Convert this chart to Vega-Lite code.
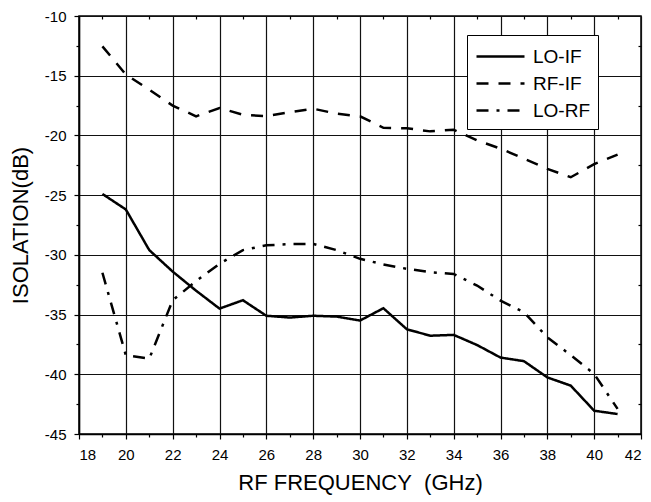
{
  "$schema": "https://vega.github.io/schema/vega-lite/v6.json",
  "width": 562,
  "height": 418,
  "autosize": {"type": "none"},
  "padding": {"left": 79, "top": 16, "right": 10, "bottom": 68},
  "background": "white",
  "config": {
    "font": "Liberation Sans",
    "view": {"stroke": "black", "strokeWidth": 1.5},
    "axis": {"labelFont": "Liberation Sans", "titleFont": "Liberation Sans", "labelColor": "black", "titleColor": "black", "titleFontWeight": "normal", "domainColor": "black", "domainWidth": 1.5, "tickColor": "black", "tickWidth": 1.2}
  },
  "data": {"values": [
    {"s": "LO-IF", "f": 19, "v": -24.9}, {"s": "LO-IF", "f": 20, "v": -26.2}, {"s": "LO-IF", "f": 21, "v": -29.6},
    {"s": "LO-IF", "f": 22, "v": -31.4}, {"s": "LO-IF", "f": 23, "v": -33.0}, {"s": "LO-IF", "f": 24, "v": -34.5},
    {"s": "LO-IF", "f": 25, "v": -33.8}, {"s": "LO-IF", "f": 26, "v": -35.1}, {"s": "LO-IF", "f": 27, "v": -35.25},
    {"s": "LO-IF", "f": 28, "v": -35.1}, {"s": "LO-IF", "f": 29, "v": -35.17}, {"s": "LO-IF", "f": 30, "v": -35.5},
    {"s": "LO-IF", "f": 31, "v": -34.47}, {"s": "LO-IF", "f": 32, "v": -36.23}, {"s": "LO-IF", "f": 33, "v": -36.77},
    {"s": "LO-IF", "f": 34, "v": -36.7}, {"s": "LO-IF", "f": 35, "v": -37.55}, {"s": "LO-IF", "f": 36, "v": -38.6},
    {"s": "LO-IF", "f": 37, "v": -38.9}, {"s": "LO-IF", "f": 38, "v": -40.26}, {"s": "LO-IF", "f": 39, "v": -40.95},
    {"s": "LO-IF", "f": 40, "v": -43.05}, {"s": "LO-IF", "f": 41, "v": -43.33},
    {"s": "RF-IF", "f": 19, "v": -12.54}, {"s": "RF-IF", "f": 20, "v": -14.9}, {"s": "RF-IF", "f": 21, "v": -16.17},
    {"s": "RF-IF", "f": 22, "v": -17.5}, {"s": "RF-IF", "f": 23, "v": -18.4}, {"s": "RF-IF", "f": 24, "v": -17.7},
    {"s": "RF-IF", "f": 25, "v": -18.27}, {"s": "RF-IF", "f": 26, "v": -18.38}, {"s": "RF-IF", "f": 27, "v": -18.05},
    {"s": "RF-IF", "f": 28, "v": -17.76}, {"s": "RF-IF", "f": 29, "v": -18.18}, {"s": "RF-IF", "f": 30, "v": -18.4},
    {"s": "RF-IF", "f": 31, "v": -19.36}, {"s": "RF-IF", "f": 32, "v": -19.4}, {"s": "RF-IF", "f": 33, "v": -19.66},
    {"s": "RF-IF", "f": 34, "v": -19.52}, {"s": "RF-IF", "f": 35, "v": -20.42}, {"s": "RF-IF", "f": 36, "v": -21.1},
    {"s": "RF-IF", "f": 37, "v": -21.95}, {"s": "RF-IF", "f": 38, "v": -22.8}, {"s": "RF-IF", "f": 39, "v": -23.5},
    {"s": "RF-IF", "f": 40, "v": -22.4}, {"s": "RF-IF", "f": 41, "v": -21.6},
    {"s": "LO-RF", "f": 19, "v": -31.5}, {"s": "LO-RF", "f": 20, "v": -38.4}, {"s": "LO-RF", "f": 21, "v": -38.7},
    {"s": "LO-RF", "f": 22, "v": -33.8}, {"s": "LO-RF", "f": 23, "v": -32.2}, {"s": "LO-RF", "f": 24, "v": -30.75},
    {"s": "LO-RF", "f": 25, "v": -29.6}, {"s": "LO-RF", "f": 26, "v": -29.2}, {"s": "LO-RF", "f": 27, "v": -29.1},
    {"s": "LO-RF", "f": 28, "v": -29.08}, {"s": "LO-RF", "f": 29, "v": -29.6}, {"s": "LO-RF", "f": 30, "v": -30.33},
    {"s": "LO-RF", "f": 31, "v": -30.8}, {"s": "LO-RF", "f": 32, "v": -31.17}, {"s": "LO-RF", "f": 33, "v": -31.45},
    {"s": "LO-RF", "f": 34, "v": -31.6}, {"s": "LO-RF", "f": 35, "v": -32.57}, {"s": "LO-RF", "f": 36, "v": -33.83},
    {"s": "LO-RF", "f": 37, "v": -34.8}, {"s": "LO-RF", "f": 38, "v": -36.9}, {"s": "LO-RF", "f": 39, "v": -38.4},
    {"s": "LO-RF", "f": 40, "v": -39.97}, {"s": "LO-RF", "f": 41, "v": -42.9}
  ]},
  "layer": [
    {
      "mark": {"type": "line", "color": "black", "strokeWidth": 2.5, "clip": true},
      "encoding": {
        "x": {"field": "f", "type": "quantitative", "scale": {"domain": [18, 42], "nice": false},
          "axis": {"orient": "bottom", "title": "RF FREQUENCY\u00a0\u00a0(GHz)", "titleFontSize": 22, "labelFontSize": 15, "titlePadding": 10, "labelPadding": 8,
            "values": [18,19,20,21,22,23,24,25,26,27,28,29,30,31,32,33,34,35,36,37,38,39,40,41,42],
            "labelExpr": "datum.value % 2 === 0 ? '' + datum.value : ''",
            "tickSize": {"condition": {"test": "datum.value % 2 === 0", "value": 5}, "value": 3},
            "grid": true, "gridColor": "#111111", "gridWidth": 1.2,
            "gridOpacity": {"condition": {"test": "datum.value % 2 === 0", "value": 1}, "value": 0}}},
        "y": {"field": "v", "type": "quantitative", "scale": {"domain": [-45, -10], "nice": false},
          "axis": {"orient": "left", "title": "ISOLATION(dB)", "titleFontSize": 22, "labelFontSize": 15, "titlePadding": 12, "labelPadding": 8,
            "values": [-45,-42.5,-40,-37.5,-35,-32.5,-30,-27.5,-25,-22.5,-20,-17.5,-15,-12.5,-10],
            "labelExpr": "datum.value % 5 === 0 ? '' + datum.value : ''",
            "tickSize": {"condition": {"test": "datum.value % 5 === 0", "value": 5}, "value": 3},
            "grid": true, "gridColor": "#111111", "gridWidth": 1.2,
            "gridOpacity": {"condition": {"test": "datum.value % 5 === 0", "value": 1}, "value": 0}}},
        "detail": {"field": "s"},
        "strokeDash": {"field": "s", "type": "nominal",
          "scale": {"domain": ["LO-IF", "RF-IF", "LO-RF"], "range": [[1, 0], [12, 10], [12, 8, 3, 8]]},
          "legend": {"title": null, "orient": "none", "legendX": 388, "legendY": 19,
            "strokeColor": "black", "fillColor": "white", "padding": 8,
            "symbolType": "M-2,0H2", "symbolSize": 576, "symbolOffset": 12, "symbolStrokeWidth": 2.5, "symbolStrokeColor": "black", "symbolFillColor": "transparent",
            "labelFont": "Liberation Sans", "labelFontSize": 19, "labelColor": "black", "rowPadding": 3, "labelOffset": 19}}
      }
    },
    {
      "mark": {"type": "line", "opacity": 0},
      "encoding": {
        "x": {"field": "f", "type": "quantitative", "scale": {"domain": [18, 42], "nice": false},
          "axis": {"orient": "top", "title": null, "labels": false, "domain": false, "grid": false, "tickSize": -3,
            "values": [19,21,23,25,27,29,31,33,35,37,39,41]}},
        "y": {"field": "v", "type": "quantitative", "scale": {"domain": [-45, -10], "nice": false},
          "axis": {"orient": "right", "title": null, "labels": false, "domain": false, "grid": false, "tickSize": -3,
            "values": [-42.5,-37.5,-32.5,-27.5,-22.5,-17.5,-12.5]}},
        "detail": {"field": "s"}
      }
    }
  ],
  "resolve": {"axis": {"x": "independent", "y": "independent"}}
}
